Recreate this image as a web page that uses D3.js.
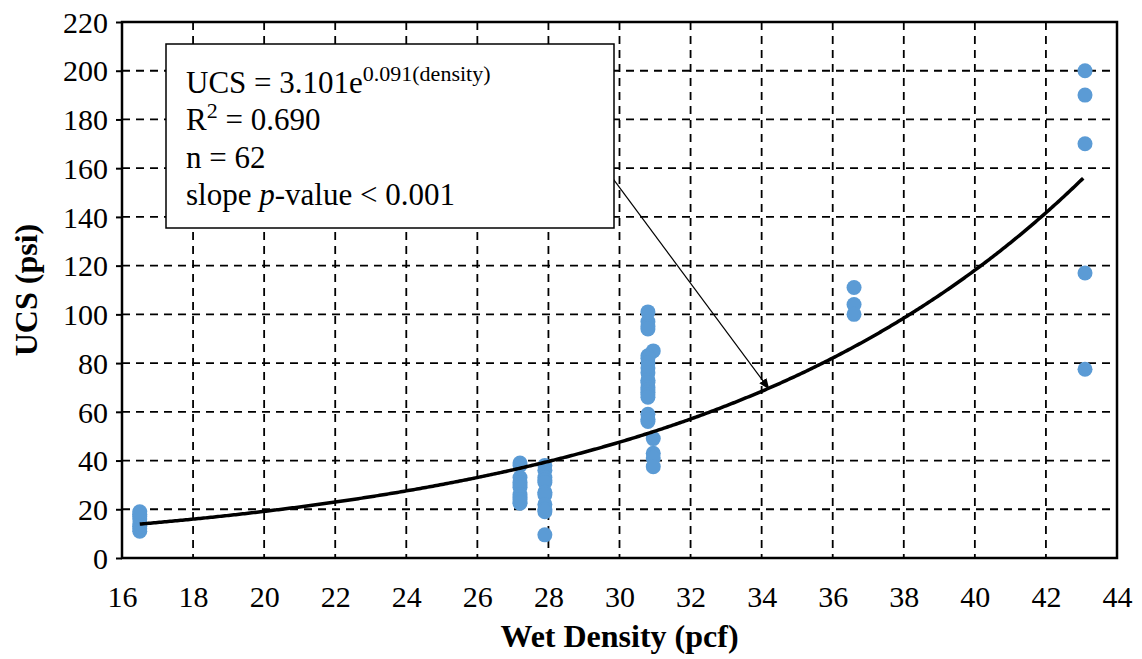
<!DOCTYPE html>
<html><head><meta charset="utf-8">
<script src="https://cdn.jsdelivr.net/npm/d3@7"></script>
<style>body{margin:0;background:#fff}</style>
</head><body>
<svg id="c" width="1142" height="659"></svg>
<script>
const xTicks = [16,18,20,22,24,26,28,30,32,34,36,38,40,42,44];
const yTicks = [0,20,40,60,80,100,120,140,160,180,200,220];
const densityX = [16.5,16.5,16.5,16.5,16.5,16.5,16.5,16.5,
  27.2,27.2,27.2,27.2,27.2,27.2,27.2,27.2,27.2,27.2,27.2,
  27.9,27.9,27.9,27.9,27.9,27.9,27.9,27.9,27.9,27.9,27.9,
  30.8,30.8,30.8,30.8,30.95,30.8,30.8,30.8,30.8,30.8,30.8,30.8,30.8,30.8,30.8,30.8,30.8,30.8,30.8,30.8,30.95,30.95,30.95,30.95,
  36.6,36.6,36.6,
  43.1,43.1,43.1,43.1,43.1];
const ucsY = [11,12,13,14,16,17,18,19,
  39,38,33,31,30,29,26,25,24,23,22.5,
  38,36,33,32,31,27,26,22,20,19,9.5,
  101,97,95,94,85,83,82,80,78,76,73,72,70,69,68,67,66,59,57,56,49,43,41,37.5,
  111,104,100,
  200,190,170,117,77.5];
const fitA = 3.101, fitB = 0.091, fitRange = [16.5, 43.05];
const arrowFrom = [29.8, 156], arrowTo = [34.2, 69.5];

const svg = d3.select("#c");
const L=122, R=1117, T=22, B=558;
const x = d3.scaleLinear().domain([16,44]).range([L,R]);
const y = d3.scaleLinear().domain([0,220]).range([B,T]);

// grid
svg.append("g").selectAll("line").data(xTicks.slice(1,-1)).join("line")
  .attr("x1",d=>x(d)).attr("x2",d=>x(d)).attr("y1",T).attr("y2",B)
  .attr("stroke","#000").attr("stroke-width",1.8).attr("stroke-dasharray","8,6");
svg.append("g").selectAll("line").data(yTicks.slice(1,-1)).join("line")
  .attr("y1",d=>y(d)).attr("y2",d=>y(d)).attr("x1",L).attr("x2",R)
  .attr("stroke","#000").attr("stroke-width",1.8).attr("stroke-dasharray","8,6");

// axes
const fontT = "'Liberation Serif','Times New Roman',serif";
const ax = svg.append("g").attr("transform",`translate(0,${B})`)
  .call(d3.axisBottom(x).tickValues(xTicks).tickSize(0).tickPadding(0));
const ay = svg.append("g").attr("transform",`translate(${L},0)`)
  .call(d3.axisLeft(y).tickValues(yTicks).tickSize(6).tickPadding(8));
[ax,ay].forEach(a=>{
  a.attr("font-family",fontT);
  a.select(".domain").remove();
  a.selectAll("line").attr("stroke","#000").attr("stroke-width",2);
  a.selectAll("text").attr("font-family",fontT).attr("font-size",30).attr("fill","#000");
});
ax.selectAll("text").attr("dy",null).attr("y",49);
ay.selectAll("text").attr("dy","0.34em");
svg.append("rect").attr("x",L).attr("y",T).attr("width",R-L).attr("height",B-T)
  .attr("fill","none").attr("stroke","#000").attr("stroke-width",2.5);

// titles
svg.append("text").attr("x",(L+R)/2).attr("y",647).attr("text-anchor","middle")
  .attr("font-family",fontT).attr("font-weight","bold").attr("font-size",32).text("Wet Density (pcf)");
svg.append("text").attr("transform",`translate(37,${(T+B)/2}) rotate(-90)`).attr("text-anchor","middle")
  .attr("font-family",fontT).attr("font-weight","bold").attr("font-size",32).text("UCS (psi)");

// points
svg.append("g").selectAll("circle").data(densityX.map((d,i)=>[d,ucsY[i]])).join("circle")
  .attr("cx",d=>x(d[0])).attr("cy",d=>y(d[1])).attr("r",7.5).attr("fill","#5B9BD5");

// fit curve
const xs = d3.range(fitRange[0], fitRange[1]+0.001, 0.05);
svg.append("path").datum(xs).attr("fill","none").attr("stroke","#000").attr("stroke-width",3.5)
  .attr("d", d3.line().x(d=>x(d)).y(d=>y(fitA*Math.exp(fitB*d))));

// arrow
const defs = svg.append("defs");
defs.append("marker").attr("id","ah").attr("viewBox","0 0 10 10").attr("refX",9).attr("refY",5)
  .attr("markerWidth",11).attr("markerHeight",11).attr("markerUnits","userSpaceOnUse").attr("orient","auto")
  .append("path").attr("d","M0,1 L10,5 L0,9 z").attr("fill","#000");
svg.append("line").attr("x1",x(arrowFrom[0])).attr("y1",y(arrowFrom[1]))
  .attr("x2",x(arrowTo[0])).attr("y2",y(arrowTo[1]))
  .attr("stroke","#000").attr("stroke-width",1.2).attr("marker-end","url(#ah)");

// text box
svg.append("rect").attr("x",166).attr("y",44).attr("width",448).attr("height",184)
  .attr("fill","#fff").attr("stroke","#000").attr("stroke-width",1.5);
const tb = svg.append("g").attr("font-family",fontT).attr("font-size",31).attr("fill","#000");
const t1 = tb.append("text").attr("x",186).attr("y",93);
t1.append("tspan").text("UCS = 3.101e");
t1.append("tspan").attr("font-size",22).attr("dy",-12).text("0.091(density)");
const t2 = tb.append("text").attr("x",186).attr("y",130);
t2.append("tspan").text("R");
t2.append("tspan").attr("font-size",22).attr("dy",-12).text("2");
t2.append("tspan").attr("dy",12).text(" = 0.690");
tb.append("text").attr("x",186).attr("y",168).text("n = 62");
const t4 = tb.append("text").attr("x",186).attr("y",205);
t4.append("tspan").text("slope ");
t4.append("tspan").attr("font-style","italic").text("p");
t4.append("tspan").text("-value < 0.001");
</script>
</body></html>
